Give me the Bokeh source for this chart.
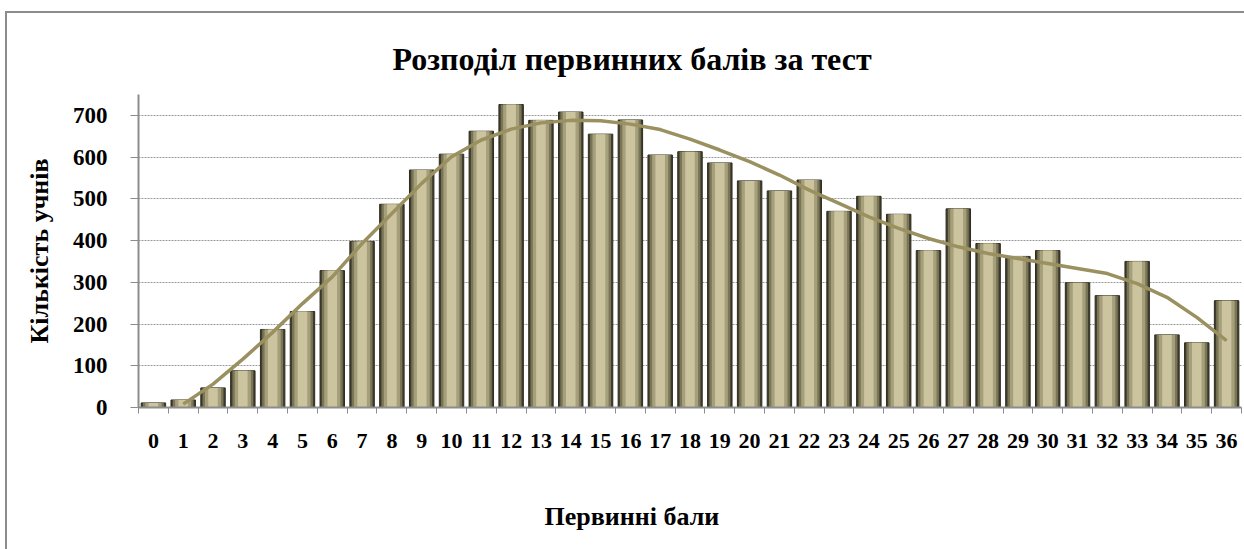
from bokeh.plotting import figure
from bokeh.models import ColumnDataSource, FixedTicker, Range1d, Title
from bokeh.embed import file_html
from bokeh.resources import INLINE

scores = list(range(37))
counts = [11, 18, 47, 88, 187, 230, 328, 398, 487, 569, 607, 662, 726, 688, 708, 655,
          689, 605, 613, 586, 543, 519, 545, 470, 506, 463, 376, 476, 393, 362, 376,
          299, 268, 350, 174, 155, 256]
trend_scores = list(range(1, 37))
trend_values = [8, 56, 116, 180, 249, 313, 393, 465, 537, 601, 641, 667, 682, 688, 687,
                679, 666, 643, 617, 589, 557, 521, 489, 457, 429, 405, 385, 369, 357, 345,
                333, 321, 297, 264, 216, 160]
tick_labels = [str(s) for s in scores]
y_ticks = [0, 100, 200, 300, 400, 500, 600, 700]

FONT = "Liberation Serif"

src = ColumnDataSource(dict(x=scores, y=counts))
tsrc = ColumnDataSource(dict(x=trend_scores, y=trend_values))

p = figure(frame_width=1103, frame_height=313, output_backend="svg", toolbar_location=None,
           x_range=Range1d(-0.5, 36.5), y_range=Range1d(0, 750),
           min_border_left=131, min_border_right=4, min_border_top=81,
           min_border_bottom=135)
p.styles = {"border": "2px solid #8c8c8c", "margin-left": "5px", "margin-top": "11px"}

# bars (layered to imitate bevel)
p.vbar(x="x", top="y", width=0.82, source=src, fill_color="#3f3d2c", line_color="#2e2c20", line_width=1)
p.vbar(x="x", top="y", width=0.70, source=src, fill_color="#7a7556", line_color=None)
p.vbar(x="x", top="y", width=0.54, source=src, fill_color="#a59f7b", line_color=None)
p.vbar(x="x", top="y", width=0.32, source=src, fill_color="#cbc49e", line_color=None)

p.line(x="x", y="y", source=tsrc, line_color="#9a9060", line_width=3.5)

# title
p.title.text = "Розподіл первинних балів за тест"
p.title.align = "left"
p.title.offset = 254
p.title.text_font = FONT
p.title.text_font_size = "32px"
p.title.text_font_style = "bold"
p.title.text_color = "black"
p.title.standoff = 36

# axes
p.xaxis.ticker = FixedTicker(ticks=scores, minor_ticks=[s - 0.5 for s in scores] + [36.5])
p.xaxis.major_label_overrides = {s: t for s, t in zip(scores, tick_labels)}
p.xaxis.major_tick_line_color = None
p.xaxis.minor_tick_out = 6
p.xaxis.minor_tick_in = 0
p.xaxis.minor_tick_line_color = "#8c8c8c"
p.xaxis.axis_line_color = "#8c8c8c"
p.xaxis.axis_line_width = 2
p.xaxis.major_label_text_font = FONT
p.xaxis.major_label_text_font_size = "22px"
p.xaxis.major_label_text_font_style = "bold"
p.xaxis.major_label_text_color = "black"
p.xaxis.major_label_standoff = 20

p.add_layout(Title(text="Первинні бали", align="left", offset=406, text_font=FONT,
                   text_font_size="26px", text_font_style="bold", text_color="black",
                   standoff=99), "below")

p.yaxis.ticker = FixedTicker(ticks=y_ticks)
p.yaxis.minor_tick_line_color = None
p.yaxis.major_tick_out = 8
p.yaxis.major_tick_in = 0
p.yaxis.major_tick_line_color = "#8c8c8c"
p.yaxis.axis_line_color = "#8c8c8c"
p.yaxis.axis_line_width = 2
p.yaxis.major_label_text_font = FONT
p.yaxis.major_label_text_font_size = "23px"
p.yaxis.major_label_text_font_style = "bold"
p.yaxis.major_label_text_color = "black"
p.yaxis.major_label_standoff = 23
p.yaxis.axis_label = "Кількість учнів"
p.yaxis.axis_label_text_font = FONT
p.yaxis.axis_label_text_font_size = "26px"
p.yaxis.axis_label_text_font_style = "bold"
p.yaxis.axis_label_text_color = "black"
p.yaxis.axis_label_standoff = 16

p.xgrid.grid_line_color = None
p.ygrid.grid_line_color = "#9a9a9a"
p.ygrid.grid_line_dash = "2 1"
p.ygrid.grid_line_width = 1
p.outline_line_color = None

open("out.html", "w").write(file_html(p, INLINE))
